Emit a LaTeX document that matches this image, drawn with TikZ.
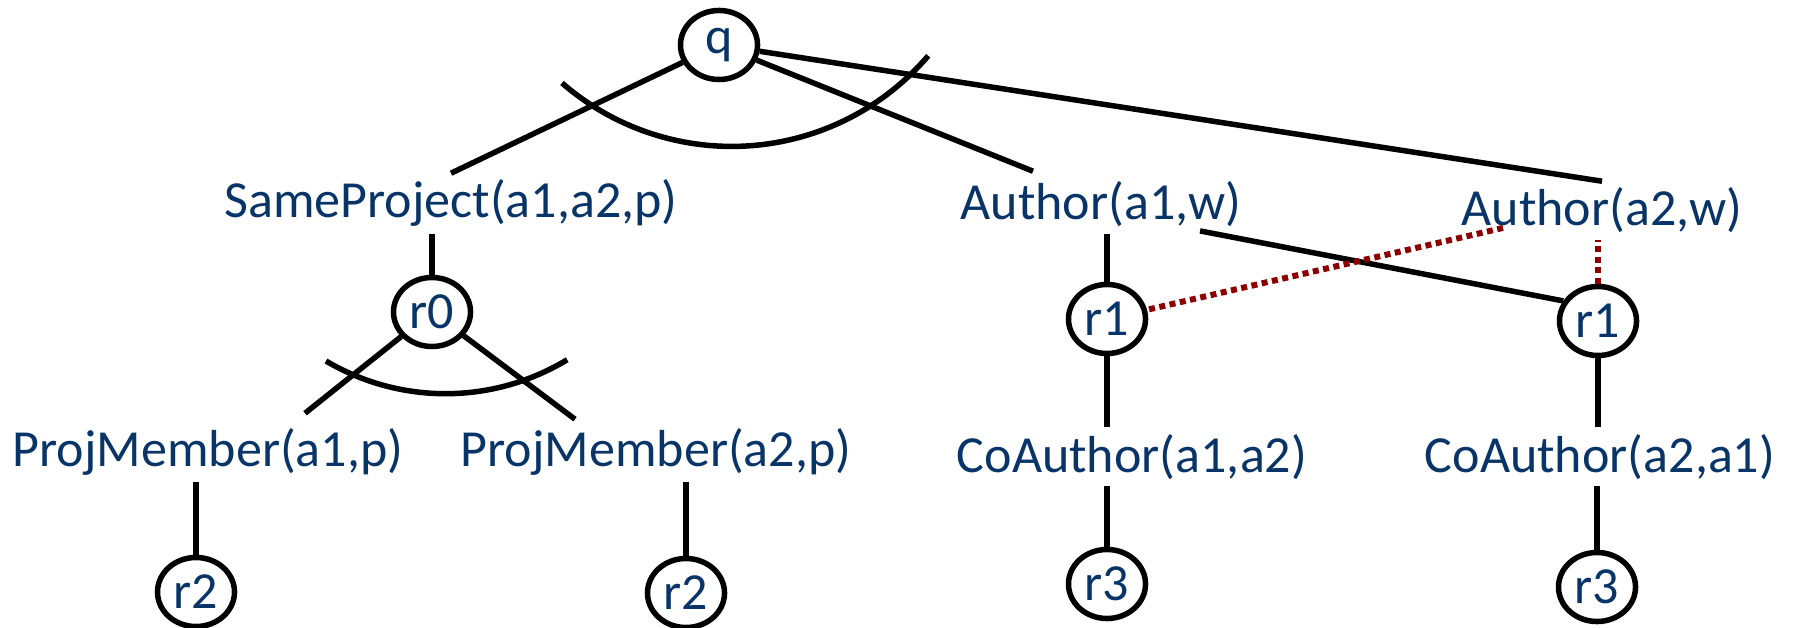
\documentclass[tikz,border=0pt]{standalone}
\usepackage{fontspec}
\setmainfont{Carlito}
\usetikzlibrary{shapes.geometric,calc}
\definecolor{predblue}{RGB}{8,52,104}
\definecolor{clashred}{RGB}{140,0,0}

\begin{document}
\begin{tikzpicture}[x=0.01cm,y=-0.01cm,
  goal/.style = {draw, ellipse, line width=0.055cm, minimum width=0.77cm, minimum height=0.69cm, inner sep=0pt, text=predblue, font=\fontsize{14.8}{17}\selectfont},
  atom/.style = {anchor=base, inner sep=0.06cm, text=predblue, font=\fontsize{14.8}{17}\selectfont},
  link/.style = {line width=0.055cm},
  clash/.style = {line width=0.06cm, clashred, dash pattern=on 0.06cm off 0.045cm}]
\useasboundingbox (0,0) rectangle (1801,628);

% goals
\node[goal] (q) at (719,45) {q};
\node[goal] (r0) at (432,312) {r0};
\node[goal] (r1a) at (1107,319) {r1};
\node[goal] (r1b) at (1598,321) {r1};
\node[goal] (r2a) at (196,592) {r2};
\node[goal] (r2b) at (686,593) {r2};
\node[goal] (r3a) at (1107,584) {r3};
\node[goal] (r3b) at (1597,587) {r3};

% atoms
\node[atom] (sp) at (451,218) {SameProject(a1,a2,p)};
\node[atom] (a1w) at (1101,220) {Author(a1,w)};
\node[atom] (a2w) at (1602,226) {Author(a2,w)};
\node[atom] (pm1) at (208,466) {ProjMember(a1,p)};
\node[atom] (pm2) at (656,466) {ProjMember(a2,p)};
\node[atom] (co1) at (1132,472) {CoAuthor(a1,a2)};
\node[atom] (co2) at (1600,472) {CoAuthor(a2,a1)};

% top level
\draw[link] (q) -- (sp.north);
\draw[link] (q) -- ($(a1w.north)+(-68,-4)$);
\draw[link] (q) -- (a2w.north);
\draw[link] ($(q)+(-157,38)$) arc[start angle=229, end angle=319.5, radius=2.584cm];

% SameProject branch
\draw[link] (r0) -- (r0 |- sp.south);
\draw[link] (r0) -- ($(pm1.north)+(97,-8)$);
\draw[link] (r0) -- ($(pm2.north)+(-81,-2)$);
\draw[link] ($(r0)+(-106,49)$) arc[start angle=239.4, end angle=301.2, radius=2.347cm];
\draw[link] (r2a) -- (r2a |- pm1.south);
\draw[link] (r2b) -- (r2b |- pm2.south);

% Author branches
\draw[link] (r1a) -- (r1a |- a1w.south);
\draw[link] (r1a) -- (r1a |- co1.north);
\draw[link] (r3a) -- (r3a |- co1.south);
\draw[clash] (r1b) -- (r1b |- a2w.south);
\draw[link] (r1b) -- (r1b |- co2.north);
\draw[link] (r3b) -- (r3b |- co2.south);
\draw[link] ($(a1w.south)+(99,-3)$) -- (r1b.150);
\draw[clash] ($(a2w.south)+(-99,-12)$) -- (r1a);
\end{tikzpicture}
\end{document}
